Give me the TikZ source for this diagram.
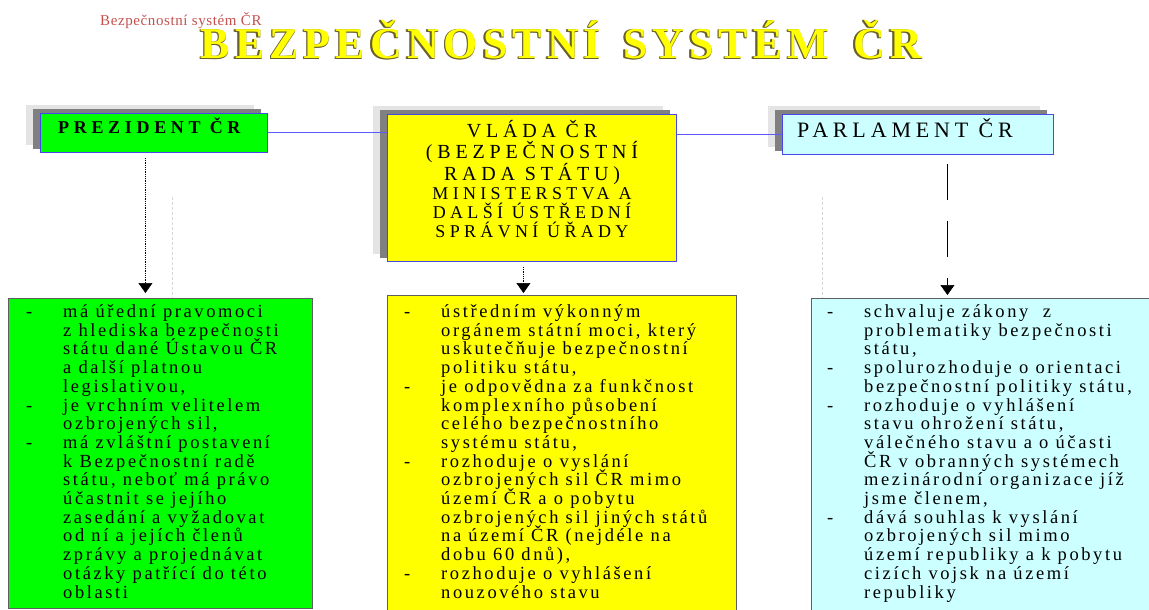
\documentclass[tikz,border=0pt]{standalone}
\usepackage{fontspec}
\setmainfont{Liberation Serif}
\usetikzlibrary{arrows.meta,backgrounds}

\definecolor{prezgreen}{RGB}{0,255,0}
\definecolor{vladayellow}{RGB}{255,255,0}
\definecolor{parlcyan}{RGB}{204,255,255}
\definecolor{linkblue}{RGB}{90,90,255}
\definecolor{frameblue}{RGB}{70,70,235}
\definecolor{shadedark}{RGB}{128,128,128}
\definecolor{shadelight}{RGB}{228,228,228}
\definecolor{listframe}{RGB}{95,95,95}
\definecolor{subtitlered}{RGB}{196,80,78}
\definecolor{titleshade}{RGB}{105,95,40}
\definecolor{ghostgray}{RGB}{215,215,215}

% list lines: a dash in front of an item, or the indent of a follow-on line
\newcommand\bul{\makebox[37pt][l]{-}}
\newcommand\ind{\hspace*{37pt}}
\newcommand\tightlines{\lineskiplimit=-100pt\relax\lineskip=0pt\relax}
\newcommand\titletext{BEZPEČNOSTNÍ\hspace{22pt}SYSTÉM\hspace{24pt}ČR}

\begin{document}
\begin{tikzpicture}[x=1pt,y=-1pt,
  topbox/.style={draw=frameblue,line width=0.9pt,anchor=north west,inner sep=0pt},
  listbox/.style={draw=listframe,line width=1pt,anchor=north west,inner sep=0pt},
  link/.style={draw=linkblue,line width=1pt},
  flowline/.style={draw=black,line width=0.6pt,dash pattern=on 1pt off 0.8pt,
    -{Triangle[width=14pt,length=10pt]}},
  flowdash/.style={draw=black,line width=0.6pt,dash pattern=on 36pt off 21pt,
    -{Triangle[width=14pt,length=10pt]}},
  ghostline/.style={draw=ghostgray,line width=0.8pt,dash pattern=on 3pt off 2pt},
  listtext/.style={anchor=base west,inner sep=0pt,
    font=\fontsize{18.5}{18.7}\selectfont\addfontfeature{LetterSpace=14}},
  titlefont/.style={anchor=base west,inner sep=0pt,
    font=\fontsize{44}{44}\selectfont\bfseries\addfontfeature{LetterSpace=11.5}}
]
\useasboundingbox (0,0) rectangle (1149,610);
\clip (0,0) rectangle (1149,610);

% headings
\node[anchor=base west,inner sep=0pt,text=subtitlered,
  font=\fontsize{15}{15}\selectfont\addfontfeature{LetterSpace=4}] (subtitle) at (100,25.5) {Bezpečnostní systém ČR};
\node[titlefont,text=titleshade] (tsh1) at (199,58.5) {\titletext};
\node[titlefont,text=titleshade] (tsh2) at (199,59.8) {\titletext};
\node[titlefont,text=titleshade] (tsh3) at (200.5,59.8) {\titletext};
\node[titlefont,text=vladayellow] (title) at (200.5,58.5) {\titletext};

% upper row of institutions
\node[topbox,fill=prezgreen,minimum width=227pt,minimum height=39pt] (prez) at (40,113) {};
\node[topbox,fill=vladayellow,minimum width=289pt,minimum height=147pt] (vlada) at (387,114) {};
\node[topbox,fill=parlcyan,minimum width=271pt,minimum height=40pt] (parl) at (782,114) {};

\begin{scope}[on background layer]
  \foreach \b in {prez,vlada,parl}{
    \fill[shadelight] ([shift={(-14,-8)}]\b.south west) rectangle ([shift={(-14,-8)}]\b.north east);
    \fill[shadedark] ([shift={(-7,-4)}]\b.south west) rectangle ([shift={(-7,-4)}]\b.north east);
  }
\end{scope}

\node[anchor=base west,inner sep=0pt,
  font=\fontsize{18}{18}\selectfont\bfseries\addfontfeature{LetterSpace=26}] (prezlabel) at (58,133.5) {PREZIDENT ČR};
\node[anchor=base west,inner sep=0pt,
  font=\fontsize{22}{22}\selectfont\addfontfeature{LetterSpace=22}] (parllabel) at (797,137.5) {PARLAMENT ČR};
\node[anchor=base,inner sep=0pt] (vladalabel) at (532,137) {\parbox[t]{285pt}{\centering
  \fontsize{20}{21.5}\selectfont\addfontfeature{LetterSpace=24}%
  VLÁDA ČR\par (BEZPEČNOSTNÍ\par RADA STÁTU)\par
  \fontsize{18}{19.3}\selectfont\addfontfeature{LetterSpace=24}%
  MINISTERSTVA A\par DALŠÍ ÚSTŘEDNÍ\par SPRÁVNÍ ÚŘADY\par}};

% links between the institutions
\draw[link] (prez.east) -- (prez.east -| vlada.west);
\draw[link] (vlada.east |- parl.west) -- (parl.west);

% lower row: competences
\node[listbox,fill=prezgreen,minimum width=304pt,minimum height=310pt] (prezduties) at (8,298) {};
\node[listbox,fill=vladayellow,minimum width=349pt,minimum height=330pt] (vladaduties) at (387,295) {};
\node[listbox,fill=parlcyan,minimum width=345pt,minimum height=330pt] (parlduties) at (811,298) {};

\draw[flowline,shorten <=5pt,shorten >=5pt] ([xshift=-8.5pt]prez.south) -- ([xshift=-8.5pt]prez.south |- prezduties.north);
\draw[flowline,shorten <=5pt,shorten >=2pt] ([xshift=-8.5pt]vlada.south) -- ([xshift=-8.5pt]vlada.south |- vladaduties.north);
\draw[flowdash,shorten <=9pt,shorten >=3pt] ([xshift=29.5pt]parl.south) -- ([xshift=29.5pt]parl.south |- parlduties.north);

% faint guide lines
\coordinate (g1) at (172,197);
\coordinate (g2) at (822,197);
\draw[ghostline] (g1) -- (g1 |- prezduties.north);
\draw[ghostline] (g2) -- (g2 |- parlduties.north);

\node[listtext] (preztext) at (26,317.5) {\parbox[t]{400pt}{\raggedright\tightlines
  \bul má úřední pravomoci\\
  \ind z hlediska bezpečnosti\\
  \ind státu dané Ústavou ČR\\
  \ind a další platnou\\
  \ind legislativou,\\
  \bul je vrchním velitelem\\
  \ind ozbrojených sil,\\
  \bul má zvláštní postavení\\
  \ind k Bezpečnostní radě\\
  \ind státu, neboť má právo\\
  \ind účastnit se jejího\\
  \ind zasedání a vyžadovat\\
  \ind od ní a jejích členů\\
  \ind zprávy a projednávat\\
  \ind otázky patřící do této\\
  \ind oblasti}};

\node[listtext] (vladatext) at (404,317.5) {\parbox[t]{400pt}{\raggedright\tightlines
  \bul ústředním výkonným\\
  \ind orgánem státní moci, který\\
  \ind uskutečňuje bezpečnostní\\
  \ind politiku státu,\\
  \bul je odpovědna za funkčnost\\
  \ind komplexního působení\\
  \ind celého bezpečnostního\\
  \ind systému státu,\\
  \bul rozhoduje o vyslání\\
  \ind ozbrojených sil ČR mimo\\
  \ind území ČR a o pobytu\\
  \ind ozbrojených sil jiných států\\
  \ind na území ČR (nejdéle na\\
  \ind dobu 60 dnů),\\
  \bul rozhoduje o vyhlášení\\
  \ind nouzového stavu}};

\node[listtext] (parltext) at (827,317.5) {\parbox[t]{400pt}{\raggedright\tightlines
  \bul schvaluje zákony\ \ z\\
  \ind problematiky bezpečnosti\\
  \ind státu,\\
  \bul spolurozhoduje o orientaci\\
  \ind bezpečnostní politiky státu,\\
  \bul rozhoduje o vyhlášení\\
  \ind stavu ohrožení státu,\\
  \ind válečného stavu a o účasti\\
  \ind ČR v obranných systémech\\
  \ind mezinárodní organizace jíž\\
  \ind jsme členem,\\
  \bul dává souhlas k vyslání\\
  \ind ozbrojených sil mimo\\
  \ind území republiky a k pobytu\\
  \ind cizích vojsk na území\\
  \ind republiky}};
\end{tikzpicture}
\end{document}
